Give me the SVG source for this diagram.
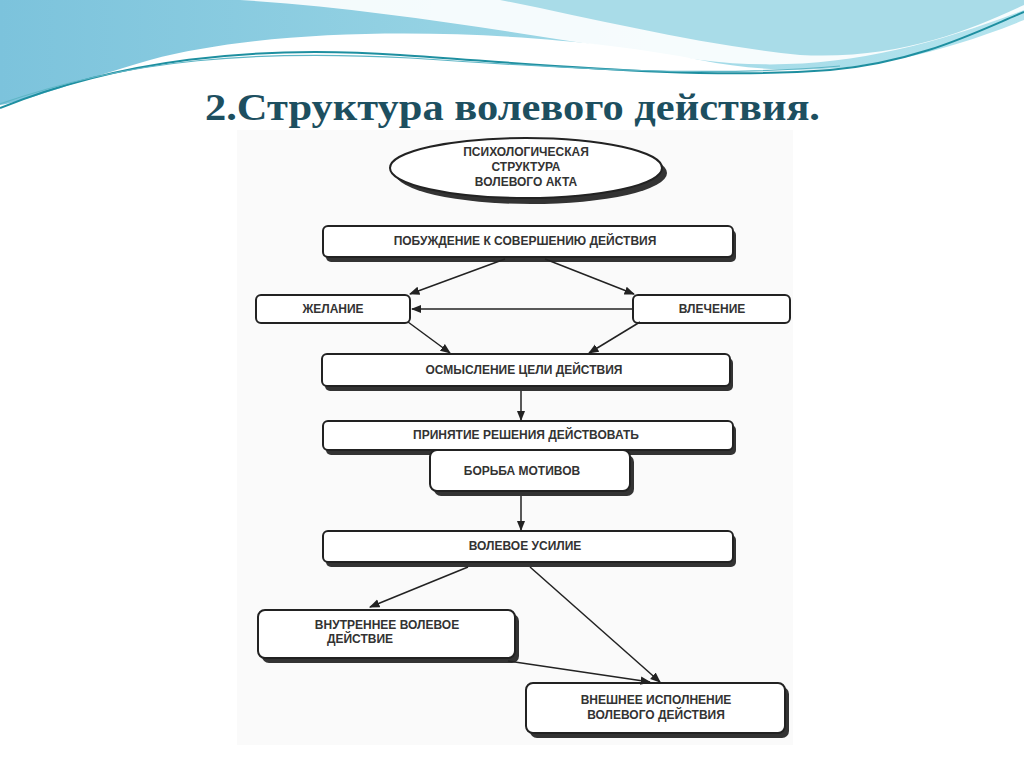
<svg xmlns="http://www.w3.org/2000/svg" width="1024" height="767" viewBox="0 0 1024 767">
<defs>
<linearGradient id="sky" x1="0" y1="0" x2="1" y2="0"><stop offset="0" stop-color="#7cc3dc"/><stop offset="0.6" stop-color="#9ed8e6"/><stop offset="1" stop-color="#b5e4ee"/></linearGradient>
<marker id="ah" viewBox="0 0 10 10" refX="9" refY="5" markerWidth="7" markerHeight="7" orient="auto-start-reverse"><path d="M0,1 L10,5 L0,9 z" fill="#222"/></marker>
<style>
.bx{fill:#fff;stroke:#222;stroke-width:2}
.sh{fill:#333}
.t{font-family:"Liberation Sans",Arial,sans-serif;font-size:12px;font-weight:bold;fill:#333;text-anchor:middle}
.c{stroke:#222;stroke-width:1.5;fill:none;marker-end:url(#ah)}
</style>
</defs>
<rect width="1024" height="767" fill="#fff"/>
<path d="M0,0 H1024 V20 C900,70 800,80 700,60 C550,30 300,20 150,60 C80,80 30,100 0,105 Z" fill="url(#sky)"/>
<path d="M240,0 C400,10 550,40 700,60 C820,75 920,50 1024,10 V0 Z" fill="#ffffff" opacity="0.9"/>
<path d="M500,0 C600,20 700,45 800,55 C900,60 970,30 1024,5 V0 Z" fill="#a9dce8"/>
<path d="M0,108 C120,60 250,45 400,55 C550,65 700,80 830,70 C920,62 980,30 1024,12" stroke="#1e8fa0" stroke-width="2" fill="none"/>
<path d="M0,104 C130,58 260,50 410,58 C560,68 710,78 840,66" stroke="#5fb6c6" stroke-width="1.2" fill="none"/>
<text x="205" y="120" font-family="Liberation Serif,serif" font-size="38" font-weight="bold" fill="#1d4f60" textLength="615" lengthAdjust="spacingAndGlyphs">2.Структура волевого действия.</text>
<rect x="237" y="130" width="556" height="615" fill="#fafafa"/>
<g id="n0"><ellipse cx="531" cy="173" rx="136" ry="31" class="sh"/><ellipse cx="526" cy="168" rx="136" ry="30" class="bx"/>
<text class="t" x="526" y="156">ПСИХОЛОГИЧЕСКАЯ</text><text class="t" x="526" y="171">СТРУКТУРА</text><text class="t" x="526" y="186">ВОЛЕВОГО АКТА</text></g>
<g id="n1"><rect x="326" y="230" width="410" height="32" rx="5" class="sh"/><rect x="323" y="226" width="410" height="31" rx="5" class="bx"/><text class="t" x="525" y="245">ПОБУЖДЕНИЕ К СОВЕРШЕНИЮ ДЕЙСТВИЯ</text></g>
<g id="n2"><rect x="256" y="295" width="154" height="28" rx="5" class="bx"/><text class="t" x="333" y="313">ЖЕЛАНИЕ</text></g>
<g id="n3"><rect x="633" y="295" width="157" height="28" rx="5" class="bx"/><text class="t" x="712" y="313">ВЛЕЧЕНИЕ</text></g>
<g id="n4"><rect x="325" y="358" width="408" height="33" rx="5" class="sh"/><rect x="322" y="354" width="408" height="32" rx="5" class="bx"/><text class="t" x="524" y="374">ОСМЫСЛЕНИЕ  ЦЕЛИ ДЕЙСТВИЯ</text></g>
<g id="n5"><rect x="326" y="425" width="410" height="30" rx="5" class="sh"/><rect x="323" y="421" width="410" height="29" rx="5" class="bx"/><text class="t" x="526" y="439">ПРИНЯТИЕ  РЕШЕНИЯ  ДЕЙСТВОВАТЬ</text></g>
<g id="n6"><rect x="434" y="455" width="200" height="41" rx="7" class="sh"/><rect x="430" y="450" width="200" height="41" rx="7" class="bx"/><text class="t" x="522" y="475">БОРЬБА МОТИВОВ</text></g>
<g id="n7"><rect x="326" y="535" width="410" height="32" rx="5" class="sh"/><rect x="323" y="531" width="410" height="31" rx="5" class="bx"/><text class="t" x="525" y="550">ВОЛЕВОЕ УСИЛИЕ</text></g>
<g id="n8"><rect x="262" y="614" width="257" height="49" rx="7" class="sh"/><rect x="258" y="610" width="257" height="48" rx="7" class="bx"/><text class="t" x="387" y="629">ВНУТРЕННЕЕ  ВОЛЕВОЕ</text><text class="t" x="360" y="643">ДЕЙСТВИЕ</text></g>
<g id="n9"><rect x="530" y="687" width="259" height="51" rx="7" class="sh"/><rect x="526" y="683" width="259" height="50" rx="7" class="bx"/><text class="t" x="656" y="704">ВНЕШНЕЕ  ИСПОЛНЕНИЕ</text><text class="t" x="656" y="719">ВОЛЕВОГО ДЕЙСТВИЯ</text></g>
<g id="connectors">
<line class="c" x1="505" y1="259" x2="410" y2="294"/>
<line class="c" x1="545" y1="259" x2="634" y2="294"/>
<line class="c" x1="632" y1="309" x2="412" y2="309"/>
<line class="c" x1="408" y1="322" x2="450" y2="353"/>
<line class="c" x1="640" y1="322" x2="589" y2="353"/>
<line class="c" x1="521" y1="391" x2="521" y2="420"/>
<line class="c" x1="521" y1="496" x2="521" y2="530"/>
<line class="c" x1="468" y1="567" x2="370" y2="607"/>
<line class="c" x1="530" y1="567" x2="660" y2="682"/>
<line class="c" x1="508" y1="661" x2="650" y2="682"/>
</g>
</svg>
